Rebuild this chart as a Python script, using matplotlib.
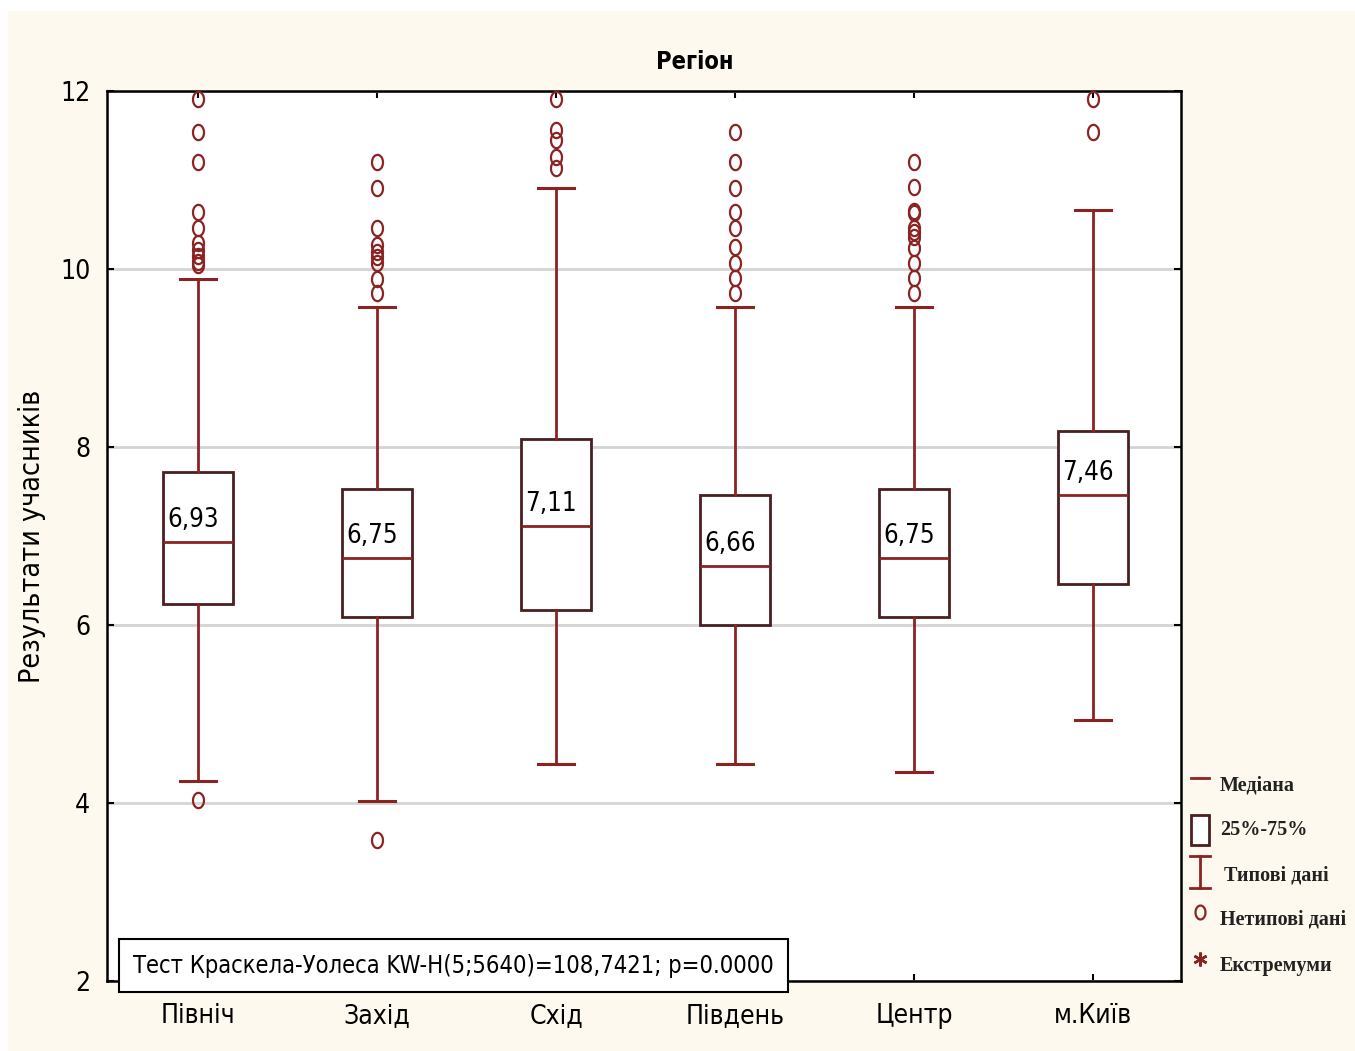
"""
Boxplot of participant results by region (Kruskal-Wallis)
"""
import matplotlib
matplotlib.use('Agg')
import matplotlib.pyplot as plt
from matplotlib.patches import Rectangle
from matplotlib.lines import Line2D
from matplotlib.path import Path
import numpy as np

# Data
regions = ['Північ', 'Захід', 'Схід', 'Південь', 'Центр', 'м.Київ']
medians = [6.93, 6.75, 7.11, 6.66, 6.75, 7.46]
q1 = [6.24, 6.09, 6.17, 6.00, 6.09, 6.46]
q3 = [7.72, 7.53, 8.09, 7.46, 7.53, 8.18]
whislo = [4.25, 4.02, 4.44, 4.44, 4.35, 4.93]
whishi = [9.89, 9.57, 10.91, 9.57, 9.57, 10.66]
outliers = [
    [11.91, 11.54, 11.20, 10.64, 10.46, 10.29, 10.21, 10.15, 10.08, 10.05, 4.03],
    [11.20, 10.91, 10.46, 10.27, 10.19, 10.13, 10.07, 9.89, 9.73, 3.58],
    [11.91, 11.56, 11.45, 11.26, 11.14],
    [11.54, 11.20, 10.91, 10.64, 10.46, 10.25, 10.07, 9.90, 9.73],
    [11.20, 10.92, 10.65, 10.63, 10.46, 10.42, 10.36, 10.24, 10.07, 9.90, 9.73],
    [11.91, 11.54],
]
y_ticks = [2, 4, 6, 8, 10, 12]
test_text = 'Тест Краскела-Уолеса KW-H(5;5640)=108,7421; p=0.0000'
legend_labels = ['Медіана', '25%-75%', 'Типові дані', 'Нетипові дані', 'Екстремуми']

SANS = 'DejaVu Sans'
COND = 'condensed'
RED = '#8c2323'
DARK = '#4a1f1f'
CREAM = '#fdf9ee'

# oval marker like the original "o"
t = np.linspace(0, 2 * np.pi, 40)
oval = Path(np.column_stack([0.72 * np.cos(t), np.sin(t)]))

fig = plt.figure(figsize=(13.55, 10.51), dpi=100, facecolor='white')
fig.patches.append(Rectangle((8 / 1355, 0), 1, 1 - 11 / 1051,
                             transform=fig.transFigure, facecolor=CREAM,
                             edgecolor='none', zorder=-10))

ax = fig.add_axes([107 / 1355, 1 - 981 / 1051, 1074 / 1355, 890 / 1051])
ax.set_facecolor('white')

stats = []
for i, name in enumerate(regions):
    stats.append(dict(med=medians[i], q1=q1[i], q3=q3[i],
                      whislo=whislo[i], whishi=whishi[i],
                      fliers=outliers[i], label=name))

positions = np.arange(1, len(regions) + 1)
ax.bxp(stats, positions=positions, widths=0.39, patch_artist=True,
       boxprops=dict(facecolor='white', edgecolor=DARK, linewidth=2),
       medianprops=dict(color=RED, linewidth=2),
       whiskerprops=dict(color=RED, linewidth=2),
       capprops=dict(color=RED, linewidth=2.2),
       capwidths=0.2,
       flierprops=dict(marker=oval, markersize=11, markerfacecolor='none',
                       markeredgecolor=RED, markeredgewidth=1.6),
       zorder=3)

# median value labels
for x, m in zip(positions, medians):
    ax.text(x - 0.03, m + 0.1, f'{m:.2f}'.replace('.', ','), ha='center',
            va='bottom', fontsize=18.5, family=SANS, fontstretch=COND, zorder=4)

ax.set_xlim(0.49, 6.49)
ax.set_ylim(2, 12)
ax.set_yticks(y_ticks)
ax.set_xticks(positions)
ax.set_xticklabels(regions)
ax.grid(axis='y', color='#d4d4d4', linewidth=2, zorder=0)
ax.tick_params(direction='in', length=5, width=1.5, top=True, right=True,
               labelsize=19)
ax.tick_params(axis='x', pad=16)
ax.tick_params(axis='y', pad=12)
for lab in ax.get_xticklabels() + ax.get_yticklabels():
    lab.set_family(SANS)
    lab.set_fontstretch(COND)
for sp in ax.spines.values():
    sp.set_linewidth(1.8)

ax.set_title('Регіон', fontsize=17, fontweight='bold', family=SANS,
             fontstretch=COND, x=0.547, pad=16)
ax.set_ylabel('Результати учасників', fontsize=20.5, family=SANS,
              fontstretch=COND, labelpad=10)

# Kruskal-Wallis test box
ax.text(26 / 1074, 15.5 / 890, test_text, transform=ax.transAxes,
        fontsize=17, family=SANS, fontstretch=COND, va='center', ha='left',
        zorder=6, clip_on=False,
        bbox=dict(boxstyle='square,pad=0.6', facecolor='white',
                  edgecolor='black', linewidth=1.5))

# Legend (drawn by hand, outside the axes)
ys = [0.220, 0.170, 0.118, 0.069, 0.017]
sx = 1.0177
tx = 1.036
tr = ax.transAxes
for i, (lab, yy) in enumerate(zip(legend_labels, ys)):
    if i == 0:
        ax.add_line(Line2D([sx - 0.008, sx + 0.008], [yy + 0.008] * 2, color=RED,
                           lw=2, transform=tr, clip_on=False))
    elif i == 1:
        ax.add_patch(Rectangle((sx - 0.008, yy - 0.017), 0.016, 0.034,
                               transform=tr, facecolor='white', edgecolor=DARK,
                               lw=2, clip_on=False))
    elif i == 2:
        ax.add_line(Line2D([sx, sx], [yy - 0.014, yy + 0.022], color=RED, lw=2,
                           transform=tr, clip_on=False))
        for cy in (yy - 0.014, yy + 0.022):
            ax.add_line(Line2D([sx - 0.009, sx + 0.009], [cy, cy], color=RED, lw=2,
                               transform=tr, clip_on=False))
    elif i == 3:
        ax.plot([sx], [yy + 0.008], marker=oval, markersize=10, mfc='none',
                mec=RED, mew=1.6, transform=tr, clip_on=False)
    else:
        ax.plot([sx], [yy + 0.008], marker=(6, 2, 0), markersize=10,
                mec=RED, mew=1.8, transform=tr, clip_on=False)
    ax.text(tx + (0.004 if i == 2 else 0), yy, lab, transform=tr,
            fontsize=14.5, fontweight='bold',
            family=['Liberation Serif', 'DejaVu Serif'],
            va='center', ha='left', color='#222222')

fig.savefig('out.png', dpi=100, facecolor=fig.get_facecolor())
